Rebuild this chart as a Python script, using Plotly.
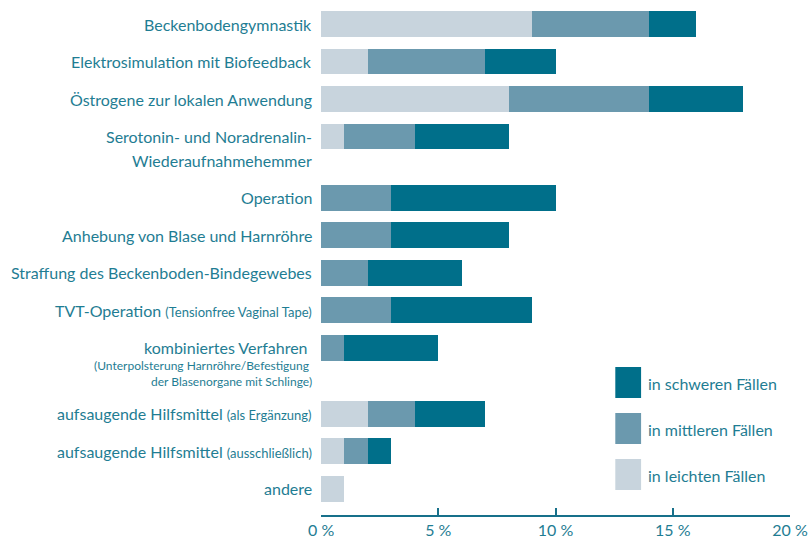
import plotly.graph_objects as go

# ---- data ----
categories = [
    "Beckenbodengymnastik",
    "Elektrosimulation mit Biofeedback",
    "Östrogene zur lokalen Anwendung",
    "Serotonin- und Noradrenalin-Wiederaufnahmehemmer",
    "Operation",
    "Anhebung von Blase und Harnröhre",
    "Straffung des Beckenboden-Bindegewebes",
    "TVT-Operation (Tensionfree Vaginal Tape)",
    "kombiniertes Verfahren (Unterpolsterung Harnröhre/Befestigung der Blasenorgane mit Schlinge)",
    "aufsaugende Hilfsmittel (als Ergänzung)",
    "aufsaugende Hilfsmittel (ausschließlich)",
    "andere",
]
leicht = [9, 2, 8, 1, 0, 0, 0, 0, 0, 2, 1, 1]
mittel = [5, 5, 6, 3, 3, 3, 2, 3, 1, 2, 1, 0]
schwer = [2, 3, 4, 4, 7, 5, 4, 6, 4, 3, 1, 0]
series_names = ["in leichten Fällen", "in mittleren Fällen", "in schweren Fällen"]
x_ticks = [0, 5, 10, 15, 20]
x_ticklabels = ["0 %", "5 %", "10 %", "15 %", "20 %"]

# label lines: (text, font size)
SM = "<span style='font-size:13px'>"
label_lines = [
    [("Beckenbodengymnastik", 16)],
    [("Elektrosimulation mit Biofeedback", 16)],
    [("Östrogene zur lokalen Anwendung", 16)],
    [("Serotonin- und Noradrenalin-", 16), ("Wiederaufnahmehemmer", 16)],
    [("Operation", 16)],
    [("Anhebung von Blase und Harnröhre", 16)],
    [("Straffung des Beckenboden-Bindegewebes", 16)],
    [("TVT-Operation " + SM + "(Tensionfree Vaginal Tape)</span>", 16)],
    [("kombiniertes Verfahren&nbsp;", 16),
     ("(Unterpolsterung Harnröhre/Befestigung&nbsp;", 12),
     ("der Blasenorgane mit Schlinge)", 12)],
    [("aufsaugende Hilfsmittel " + SM + "(als Ergänzung)</span>", 16)],
    [("aufsaugende Hilfsmittel " + SM + "(ausschließlich)</span>", 16)],
    [("andere", 16)],
]

# ---- layout helpers ----
COL_LIGHT = "#c8d4dd"
COL_MID = "#6b99ae"
COL_DARK = "#006f8a"
TXT = "#1f7d93"
AX = "#17708a"
FONT = "Lato"
PLOT_H = 515.0

# row positions: extra space after multi-line labels
extra_gap = {1: 0.0, 2: 0.63, 3: 0.76}
pos = []
p = 0.0
for i, lines in enumerate(label_lines):
    if i > 0:
        p += 1 + extra_gap[len(label_lines[i - 1])]
    pos.append(p)

fig = go.Figure()
for name, vals, col in zip(series_names, [leicht, mittel, schwer], [COL_LIGHT, COL_MID, COL_DARK]):
    fig.add_trace(go.Bar(
        x=vals, y=pos, orientation="h", name=name,
        marker=dict(color=col, line=dict(width=0)),
        width=0.69, hovertext=categories, showlegend=False,
    ))

annotations = []
for yp, lines in zip(pos, label_lines):
    shift = 0
    for j, (txt, size) in enumerate(lines):
        if j > 0:
            shift += 24 if (size == 16) else (18 if j == 1 else 16)
        annotations.append(dict(
            x=0, xref="x", y=yp, yref="y", xanchor="right", yanchor="middle",
            xshift=-7, yshift=-shift, text=txt, showarrow=False,
            font=dict(family=FONT, size=size, color=TXT),
        ))

# zero tick label (axis has no tick mark at 0)
annotations.append(dict(
    x=0, xref="x", y=0, yref="paper", yanchor="middle", xanchor="center",
    yshift=-14, height=18, borderpad=0, text=x_ticklabels[0], showarrow=False,
    font=dict(family=FONT, size=16, color=TXT),
))

# custom legend (dark first)
shapes = []
leg_items = list(zip(series_names, [COL_LIGHT, COL_MID, COL_DARK]))[::-1]
for k, (name, col) in enumerate(leg_items):
    yc = 382.5 + 46 * k  # px from top
    yc_p = 1 - yc / PLOT_H
    shapes.append(dict(
        type="rect", xref="x", yref="paper",
        x0=12.55, x1=13.65, y0=yc_p - 15.5 / PLOT_H, y1=yc_p + 15.5 / PLOT_H,
        fillcolor=col, line=dict(width=0),
    ))
    annotations.append(dict(
        x=13.88, xref="x", y=yc_p, yref="paper", xanchor="left", yanchor="middle",
        yshift=-1, text=name, showarrow=False,
        font=dict(family=FONT, size=16, color=TXT),
    ))

fig.update_layout(
    width=810, height=538,
    barmode="stack",
    margin=dict(l=321, r=20, t=0, b=23, autoexpand=False),
    plot_bgcolor="white", paper_bgcolor="white",
    bargap=0,
    xaxis=dict(
        range=[0, 20], tickvals=x_ticks[1:], ticktext=x_ticklabels[1:],
        ticks="inside", ticklen=7, tickwidth=2, tickcolor=AX,
        showline=True, linecolor=AX, linewidth=2,
        showgrid=False, zeroline=False, automargin=False,
        tickfont=dict(family=FONT, size=16, color=TXT),
        fixedrange=True,
    ),
    yaxis=dict(
        range=[13.09, -0.64], showticklabels=False, showgrid=False,
        zeroline=False, showline=False, ticks="", automargin=False,
    ),
    annotations=annotations,
    shapes=shapes,
    showlegend=False,
)

fig.write_html(
    "out.html",
    config={"displayModeBar": False},
    post_script="document.body.style.margin='0px';document.body.style.overflow='hidden';",
)
